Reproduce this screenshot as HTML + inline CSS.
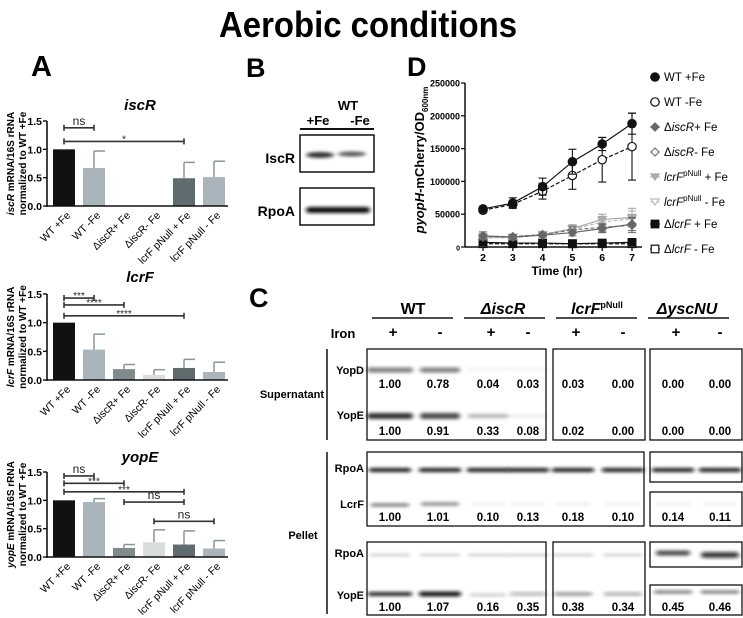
<!DOCTYPE html>
<html><head><meta charset="utf-8">
<style>
html,body{margin:0;padding:0;background:#fff;}
svg{display:block;font-family:"Liberation Sans",Arial,sans-serif;}
</style></head>
<body>
<svg id="fig" width="743" height="618" viewBox="0 0 743 618" xmlns="http://www.w3.org/2000/svg">
<defs>
<filter id="blur" x="-20%" y="-200%" width="140%" height="500%"><feGaussianBlur stdDeviation="2.2 1.6"/></filter>
</defs>
<text x="368" y="37" text-anchor="middle" font-size="36" font-weight="bold" textLength="298" lengthAdjust="spacingAndGlyphs">Aerobic conditions</text>
<text x="31" y="76" font-size="29" font-weight="bold">A</text>
<text x="246" y="77" font-size="27" font-weight="bold">B</text>
<text x="407" y="76" font-size="27" font-weight="bold">D</text>
<text x="249" y="307" font-size="27" font-weight="bold">C</text>
<g id="panelA"></g>
<g id="panelB"></g>
<g id="panelC"></g>
<g id="panelD"></g>
</svg>
<script>
// ---------- Panel A data ----------
const aCategories = ["WT +Fe","WT -Fe","ΔiscR+ Fe","ΔiscR- Fe","lcrF pNull + Fe","lcrF pNull - Fe"];
const aTicks = [0.0,0.5,1.0,1.5];
const iscRValues = [1.0,0.67,0,0,0.49,0.51];
const iscRErrors = [0,0.30,0,0,0.28,0.28];
const lcrFValues = [1.0,0.53,0.19,0.09,0.21,0.14];
const lcrFErrors = [0,0.27,0.08,0.09,0.15,0.17];
const yopEValues = [1.0,0.97,0.16,0.26,0.22,0.15];
const yopEErrors = [0,0.06,0.06,0.22,0.24,0.14];
const iscRSig = [[0,1,"ns"],[0,4,"*"]];
const lcrFSig = [[0,1,"***"],[0,2,"****"],[0,4,"****"]];
const yopESig = [[0,1,"ns"],[0,2,"***"],[0,4,"***"],[2,4,"ns"],[3,5,"ns"]];
// ---------- Panel D data ----------
const dHours = [2,3,4,5,6,7];
const dTicks = [0,50000,100000,150000,200000,250000];
const wtPlus = [58000,67000,92000,130000,157000,188000];
const wtPlusErr = [3000,8000,13000,19000,10000,16000];
const wtMinus = [56000,65000,85000,109000,133000,153000];
const wtMinusErr = [3000,5000,12000,21000,34000,51000];
const iscRPlus = [17000,15000,18000,22000,28000,35000];
const iscRPlusErr = [6000,3000,3000,5000,6000,10000];
const iscRMinus = [16000,16000,19000,26000,30000,33000];
const iscRMinusErr = [4000,3000,3000,5000,6000,11000];
const lcrFNullPlus = [15000,15000,19000,28000,42000,45000];
const lcrFNullPlusErr = [3000,3000,3000,6000,8000,14000];
const lcrFNullMinus = [14000,14000,19000,27000,38000,43000];
const lcrFNullMinusErr = [3000,3000,3000,5000,7000,12000];
const lcrFDelPlus = [7000,6000,6000,5000,6000,7000];
const lcrFDelMinus = [5000,5000,5000,5000,5000,5000];
// ---------- Panel C data ----------
const cYopD = ["1.00","0.78","0.04","0.03","0.03","0.00","0.00","0.00"];
const cYopEsup = ["1.00","0.91","0.33","0.08","0.02","0.00","0.00","0.00"];
const cLcrF = ["1.00","1.01","0.10","0.13","0.18","0.10","0.14","0.11"];
const cYopEpel = ["1.00","1.07","0.16","0.35","0.38","0.34","0.45","0.46"];

const NS="http://www.w3.org/2000/svg";
function el(parent,tag,attrs,text){const e=document.createElementNS(NS,tag);for(const k in attrs)e.setAttribute(k,attrs[k]);if(text!==undefined)e.textContent=text;parent.appendChild(e);return e;}

// ---------- Panel A ----------
const barColors=["#111","#a9b5bb","#7f8b8c","#d9dddd","#5f6b6c","#a9b5bb"];
function barChart(title,gene,vals,errs,sigs,y0,yTop,titleY){
  const g=document.getElementById("panelA");
  const sub=el(g,"g",{});
  
  
  const x0=47,x1=228;
  const ys=v=>y0-(v/1.5)*(y0-yTop);
  const xc=i=>64+i*30;
  const t=el(sub,"text",{x:140,y:titleY,"text-anchor":"middle","font-size":15,"font-weight":"bold","font-style":"italic"},title);
  
  
  const yl=el(sub,"text",{transform:`translate(14,${(y0+yTop)/2}) rotate(-90)`,"text-anchor":"middle","font-size":10,"font-weight":"bold"});
  
  
  el(yl,"tspan",{"font-style":"italic"},title); el(yl,"tspan",{}," mRNA/16S rRNA");
  el(yl,"tspan",{x:0,dy:12},"normalized to WT  +Fe");
  vals.forEach((v,i)=>{
    const r=el(sub,"rect",{x:xc(i)-11,y:ys(v),width:22,height:y0-ys(v),fill:barColors[i]});
    
    
    if(errs[i]>0){
      const c=i===0?"#111":"#8a9597";
      el(sub,"line",{x1:xc(i),x2:xc(i),y1:ys(v),y2:ys(v+errs[i]),stroke:c,"stroke-width":1.5});
      el(sub,"line",{x1:xc(i),x2:xc(i)+11,y1:ys(v+errs[i]),y2:ys(v+errs[i]),stroke:c,"stroke-width":1.5});
    }
    const lab=el(sub,"text",{transform:`translate(${xc(i)+7},${y0+10}) rotate(-45)`,"text-anchor":"end","font-size":10.5},aCategories[i]);
    
    
  });
  el(sub,"line",{x1:x0,x2:x0,y1:yTop,y2:y0+1,stroke:"#111","stroke-width":1.6});
  el(sub,"line",{x1:x0,x2:x1,y1:y0,y2:y0,stroke:"#111","stroke-width":1.6});
  aTicks.forEach(tv=>{
    el(sub,"line",{x1:x0-4,x2:x0,y1:ys(tv),y2:ys(tv),stroke:"#111","stroke-width":1.4});
    const tl=el(sub,"text",{x:x0-5,y:ys(tv)+4,"text-anchor":"end","font-size":10.5,"font-weight":"bold"},tv.toFixed(1));
    
    
  });
  sigs.forEach((s,k)=>{
    let yy;
    if(sigs.length>3){yy=ys([1.43,1.3,1.15,0.97,0.63][k]);}
    else if(sigs.length===3){yy=ys([1.43,1.31,1.12][k]);}
    else yy=ys([1.38,1.14][k]);
    const xa=xc(s[0]),xb=xc(s[1]);
    const c="#333";
    el(sub,"line",{x1:xa,x2:xb,y1:yy,y2:yy,stroke:c,"stroke-width":1.6});
    el(sub,"line",{x1:xa,x2:xa,y1:yy-3,y2:yy+3,stroke:c,"stroke-width":1.6});
    el(sub,"line",{x1:xb,x2:xb,y1:yy-3,y2:yy+3,stroke:c,"stroke-width":1.6});
    const st=el(sub,"text",{x:(xa+xb)/2,y:s[2]==="ns"?yy-3:yy+1,"text-anchor":"middle","font-size":s[2]==="ns"?12:10,fill:"#222"},s[2]);
    
    
  });
}
barChart("iscR","iscr",iscRValues,iscRErrors,iscRSig,206,121,110);
barChart("lcrF","lcrf",lcrFValues,lcrFErrors,lcrFSig,380,294,282);
barChart("yopE","yope",yopEValues,yopEErrors,yopESig,557,472,462);

// ---------- Panel B ----------
(function(){
  const g=document.getElementById("panelB");
  el(g,"text",{x:348,y:110,"text-anchor":"middle","font-size":13,"font-weight":"bold"},"WT");
  el(g,"text",{x:318,y:125,"text-anchor":"middle","font-size":13,"font-weight":"bold"},"+Fe");
  el(g,"text",{x:360,y:125,"text-anchor":"middle","font-size":13,"font-weight":"bold"},"-Fe");
  el(g,"line",{x1:300,x2:374,y1:129,y2:129,stroke:"#111","stroke-width":2});
  el(g,"rect",{x:300,y:135,width:74,height:37,fill:"#fff",stroke:"#111","stroke-width":1.5});
  el(g,"rect",{x:300,y:188,width:74,height:37,fill:"#fff",stroke:"#111","stroke-width":1.5});
  el(g,"text",{x:295,y:163,"text-anchor":"end","font-size":14,"font-weight":"bold"},"IscR");
  el(g,"text",{x:295,y:216,"text-anchor":"end","font-size":14,"font-weight":"bold"},"RpoA");
  el(g,"ellipse",{cx:320,cy:155,rx:14,ry:3,fill:"#333",filter:"url(#blur)"});
  el(g,"ellipse",{cx:352,cy:154,rx:14,ry:2.5,fill:"#555",filter:"url(#blur)"});
  el(g,"rect",{x:306,y:207,width:64,height:6,rx:3,fill:"#111",filter:"url(#blur)"});
})();

// ---------- Panel C ----------
(function(){
  const g=document.getElementById("panelC");
  const lanes=[390,440,488,528,573,623,673,720];
  const heads=[["WT",413,372,453],["ΔiscR",503,464,545],["lcrF",597,556,637],["ΔyscNU",687,648,729]];
  heads.forEach((h,i)=>{
    const t=el(g,"text",{x:h[1],y:314,"text-anchor":"middle","font-size":16,"font-weight":"bold","font-style":i>0?"italic":"normal"},h[0]);
    if(i===2) el(t,"tspan",{"font-size":9,dy:-6,"font-style":"normal"},"pNull");
    el(g,"line",{x1:h[2],x2:h[3],y1:318,y2:318,stroke:"#111","stroke-width":1.5});
  });
  el(g,"text",{x:343,y:338,"text-anchor":"middle","font-size":13,"font-weight":"bold"},"Iron");
  lanes.forEach((x,i)=>el(g,"text",{x:x+(i%2?0:3),y:337,"text-anchor":"middle","font-size":15,"font-weight":"bold"},i%2?"-":"+"));
  const box=(x,y,w,h)=>el(g,"rect",{x,y,width:w,height:h,fill:"#fff",stroke:"#111","stroke-width":1.3});
  box(367,349,179,91);box(553,349,92,91);box(650,349,92,91);
  box(367,452,277,74);box(650,452,92,30);box(650,492,92,34);
  box(367,542,179,73);box(553,542,92,73);box(650,542,92,25);box(650,585,92,30);
  el(g,"line",{x1:327,x2:327,y1:349,y2:440,stroke:"#111","stroke-width":1.5});
  el(g,"line",{x1:327,x2:327,y1:452,y2:614,stroke:"#111","stroke-width":1.5});
  el(g,"text",{x:324,y:398,"text-anchor":"end","font-size":11,"font-weight":"bold"},"Supernatant");
  el(g,"text",{x:303,y:539,"text-anchor":"middle","font-size":11,"font-weight":"bold"},"Pellet");
  const lab=(t,y)=>el(g,"text",{x:364,y,"text-anchor":"end","font-size":11,"font-weight":"bold"},t);
  lab("YopD",374);lab("YopE",419);lab("RpoA",472);lab("LcrF",508);lab("RpoA",557);lab("YopE",599);
  const band=(x,y,w,h,op)=>el(g,"rect",{x:x-w/2,y:y-h/2,width:w,height:h,rx:h/2,fill:"#111","fill-opacity":op,filter:"url(#blur)"});
  band(390,370,46,5,0.55);band(440,370,40,5,0.55);band(488,369,40,3,0.06);band(528,369,40,3,0.05);
  band(390,416,46,6,0.85);band(440,416,40,6,0.75);band(488,416,40,4,0.3);band(528,416,40,3,0.08);
  [0,1,2,3,4,5,6,7].forEach(i=>band(lanes[i],470,42,4,0.95));
  band(390,505,38,3,0.6);band(440,504,38,3,0.55);
  [2,3,4,5,6,7].forEach(i=>band(lanes[i],504,34,2,0.1));
  [0,1,2,3,4,5].forEach(i=>band(lanes[i],555,40,2,0.25));
  band(673,553,34,5,0.75);band(720,555,38,6,0.8);
  band(390,594,44,4,0.9);band(440,594,42,5,0.95);band(488,595,36,3,0.2);band(528,594,36,3,0.35);
  band(573,594,38,3,0.5);band(623,594,38,3,0.4);band(673,592,38,3,0.6);band(720,592,38,3,0.6);
  const nums=(arr,y,nm)=>arr.forEach((v,i)=>{const t=el(g,"text",{x:lanes[i]-(i===1?2:0),y,"text-anchor":"middle","font-size":11.5,"font-weight":"bold"},v);
    
    });
  nums(cYopD,388,"yopd-supernatant-value");nums(cYopEsup,435,"yope-supernatant-value");
  nums(cLcrF,521,"lcrf-pellet-value");nums(cYopEpel,611,"yope-pellet-value");
})();

// ---------- Panel D ----------
(function(){
  const g=document.getElementById("panelD");
  const x0=465,y0=247,yTop=83;
  const xs=h=>483+(h-2)*29.8;
  const ys=v=>y0-(v/250000)*(y0-yTop);
  el(g,"line",{x1:x0,x2:x0,y1:yTop,y2:y0,stroke:"#111","stroke-width":1.5});
  el(g,"line",{x1:x0,x2:xs(7)+10,y1:y0,y2:y0,stroke:"#111","stroke-width":1.5});
  dTicks.forEach(t=>{
    el(g,"line",{x1:x0-4,x2:x0,y1:ys(t),y2:ys(t),stroke:"#111","stroke-width":1.3});
    const tl=el(g,"text",{x:x0-5,y:ys(t)+3.5,"text-anchor":"end","font-size":t===0?7:9,"font-weight":"bold"},String(t));
    
    
  });
  dHours.forEach(h=>{
    el(g,"line",{x1:xs(h),x2:xs(h),y1:y0,y2:y0+4,stroke:"#111","stroke-width":1.3});
    const tl=el(g,"text",{x:xs(h),y:y0+14,"text-anchor":"middle","font-size":10.5,"font-weight":"bold"},String(h));
    
    
  });
  const xt=el(g,"text",{x:557,y:275,"text-anchor":"middle","font-size":12,"font-weight":"bold"},"Time (hr)");
  
  
  const yt=el(g,"text",{transform:"translate(424,160) rotate(-90)","text-anchor":"middle","font-size":13,"font-weight":"bold"});
  
  
  el(yt,"tspan",{"font-style":"italic"},"pyopH");el(yt,"tspan",{},"-mCherry/OD");el(yt,"tspan",{"font-size":8,dy:4},"600nm");
  const series=[
    {name:"WT +Fe",v:wtPlus,e:wtPlusErr,c:"#111",m:"circle",f:"#111",d:""},
    {name:"WT -Fe",v:wtMinus,e:wtMinusErr,c:"#111",m:"circle",f:"#fff",d:"4,2"},
    {name:"ΔiscR + Fe",v:iscRPlus,e:iscRPlusErr,c:"#666",m:"diamond",f:"#666",d:""},
    {name:"ΔiscR - Fe",v:iscRMinus,e:iscRMinusErr,c:"#777",m:"diamond",f:"#fff",d:"4,2"},
    {name:"lcrF pNull + Fe",v:lcrFNullPlus,e:lcrFNullPlusErr,c:"#aaa",m:"tri",f:"#aaa",d:""},
    {name:"lcrF pNull - Fe",v:lcrFNullMinus,e:lcrFNullMinusErr,c:"#bbb",m:"tri",f:"#fff",d:"4,2"},
    {name:"ΔlcrF + Fe",v:lcrFDelPlus,e:null,c:"#111",m:"square",f:"#111",d:""},
    {name:"ΔlcrF - Fe",v:lcrFDelMinus,e:null,c:"#111",m:"square",f:"#fff",d:"4,2"}
  ];
  function marker(parent,m,x,y,c,f){
    if(m==="circle") return el(parent,"circle",{cx:x,cy:y,r:4.2,fill:f,stroke:c,"stroke-width":1.2});
    if(m==="diamond") return el(parent,"polygon",{points:`${x},${y-4} ${x+4},${y} ${x},${y+4} ${x-4},${y}`,fill:f,stroke:c,"stroke-width":1.2});
    if(m==="tri") return el(parent,"polygon",{points:`${x-4},${y-3} ${x+4},${y-3} ${x},${y+3}`,fill:f,stroke:c,"stroke-width":1.2});
    return el(parent,"rect",{x:x-3.8,y:y-3.8,width:7.6,height:7.6,fill:f,stroke:c,"stroke-width":1.2});
  }
  series.slice().reverse().forEach((s,ri)=>{
    const si=series.length-1-ri;
    const sg=el(g,"g",{});
    
    
    if(s.e) s.v.forEach((v,i)=>{
      const x=xs(dHours[i]);
      el(sg,"line",{x1:x,x2:x,y1:ys(v-s.e[i]),y2:ys(v+s.e[i]),stroke:s.c,"stroke-width":1.1});
      el(sg,"line",{x1:x-4,x2:x+4,y1:ys(v-s.e[i]),y2:ys(v-s.e[i]),stroke:s.c,"stroke-width":1.1});
      el(sg,"line",{x1:x-4,x2:x+4,y1:ys(v+s.e[i]),y2:ys(v+s.e[i]),stroke:s.c,"stroke-width":1.1});
    });
    el(sg,"polyline",{points:s.v.map((v,i)=>xs(dHours[i])+","+ys(v)).join(" "),fill:"none",stroke:s.c,"stroke-width":1.2,"stroke-dasharray":s.d});
    s.v.forEach((v,i)=>{
      const mk=marker(sg,s.m,xs(dHours[i]),ys(v),s.c,s.f);
      
      
    });
  });
  const ly=[77,102,127,152,177,202,224,249];
  series.forEach((s,i)=>{
    const lg=el(g,"g",{});
    
    
    el(lg,"line",{x1:650,x2:660,y1:ly[i],y2:ly[i],stroke:s.c,"stroke-width":1});
    marker(lg,s.m,655,ly[i],s.c,s.f);
    const t=el(lg,"text",{x:664,y:ly[i]+4,"font-size":11.5});
    const n=s.name;
    if(n.indexOf("iscR")>=0){el(t,"tspan",{},"Δ");el(t,"tspan",{"font-style":"italic"},"iscR");el(t,"tspan",{},n.slice(6));}
    else if(n.indexOf("pNull")>=0){el(t,"tspan",{"font-style":"italic"},"lcrF");el(t,"tspan",{"font-size":8,dy:-5},"pNull");el(t,"tspan",{dy:5},n.slice(10));}
    else if(n.indexOf("ΔlcrF")>=0){el(t,"tspan",{},"Δ");el(t,"tspan",{"font-style":"italic"},"lcrF");el(t,"tspan",{},n.slice(5));}
    else t.textContent=n;
  });
})();
</script>
</body></html>
